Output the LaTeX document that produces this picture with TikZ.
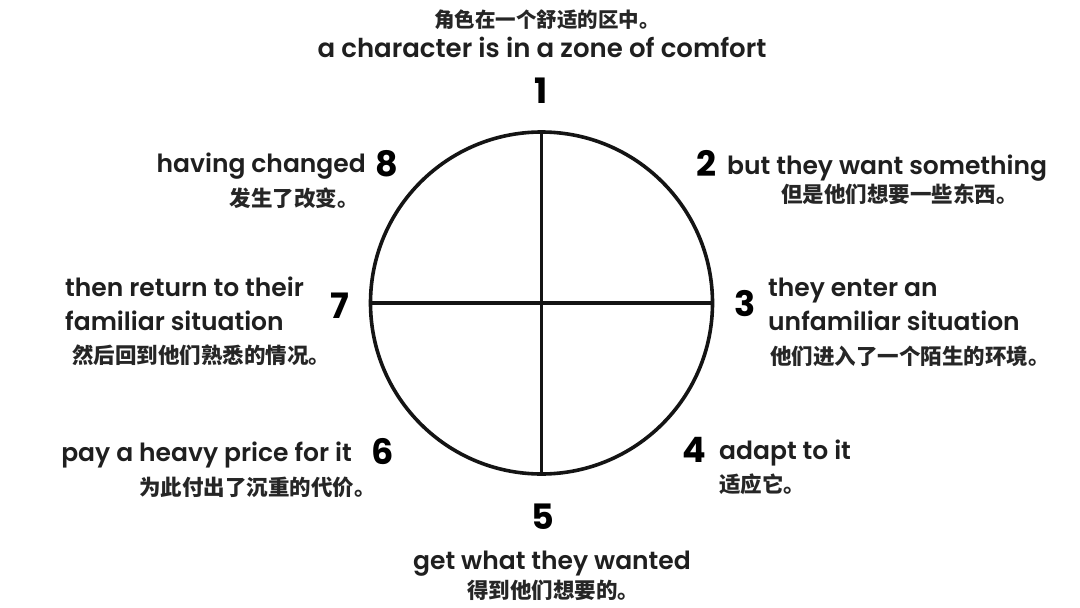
\documentclass[tikz,border=0pt]{standalone}
\usepackage{fontspec}
\setmainfont{Poppins}[UprightFont={* SemiBold},BoldFont={* Bold}]
\newfontfamily\cjk{Noto Sans CJK SC}
\begin{document}
\begin{tikzpicture}[x=1pt,y=-1pt,
  en/.style={inner sep=0pt,font=\fontsize{25}{28}\selectfont,text=black!88},
  cn/.style={inner sep=0pt,font=\cjk\bfseries\fontsize{21.5}{24}\selectfont,text=black!85},
  num/.style={inner sep=0pt,font=\bfseries\fontsize{35}{38}\selectfont},
  ring/.style={line width=3.6pt,draw=black!92}]
\useasboundingbox (0,0) rectangle (1080,608);
\fill[white] (0,0) rectangle (1080,608);
% circle and cross
\node[ring,circle,minimum size=342pt,inner sep=0pt] (c) at (541.5,303) {};
\draw[ring] (c.north) -- (c.south);
\draw[ring] (c.west) -- (c.east);
% 1
\node[cn,font=\cjk\bfseries\fontsize{20.5}{24}\selectfont] (cn1) at (547,20) {角色在一个舒适的区中。};
\node[en,anchor=base,font=\fontsize{26}{28}\selectfont] (en1) at (542,57) {a character is in a zone of comfort};
\node[num] (n1) at (541,91) {1};
% 2
\node[num] (n2) at (706,163) {2};
\node[en,anchor=base west] (en2) at (727,174) {but they want something};
\node[cn,anchor=west] (cn2) at (781,194) {但是他们想要一些东西。};
% 3
\node[num] (n3) at (745,304) {3};
\node[en,anchor=base west] (en3a) at (768,296) {they enter an};
\node[en,anchor=base west] (en3b) at (768,330) {unfamiliar situation};
\node[cn,anchor=west] (cn3) at (770,356) {他们进入了一个陌生的环境。};
% 4
\node[num] (n4) at (694,450) {4};
\node[en,anchor=base west] (en4) at (719,459) {adapt to it};
\node[cn,anchor=west] (cn4) at (719,484) {适应它。};
% 5
\node[num] (n5) at (543,517) {5};
\node[en,anchor=base] (en5) at (552,569) {get what they wanted};
\node[cn] (cn5) at (553,590) {得到他们想要的。};
% 6
\node[num] (n6) at (383,452) {6};
\node[en,anchor=base east] (en6) at (352,461) {pay a heavy price for it};
\node[cn,anchor=east] (cn6) at (376,487) {为此付出了沉重的代价。};
% 7
\node[num] (n7) at (340,306) {7};
\node[en,anchor=base west] (en7a) at (65,296) {then return to their};
\node[en,anchor=base west] (en7b) at (65,330) {familiar situation};
\node[cn,anchor=west] (cn7) at (72,355) {然后回到他们熟悉的情况。};
% 8
\node[num] (n8) at (387,164) {8};
\node[en,anchor=base east] (en8) at (366,172) {having changed};
\node[cn,anchor=east] (cn8) at (359,198) {发生了改变。};
\end{tikzpicture}
\end{document}
